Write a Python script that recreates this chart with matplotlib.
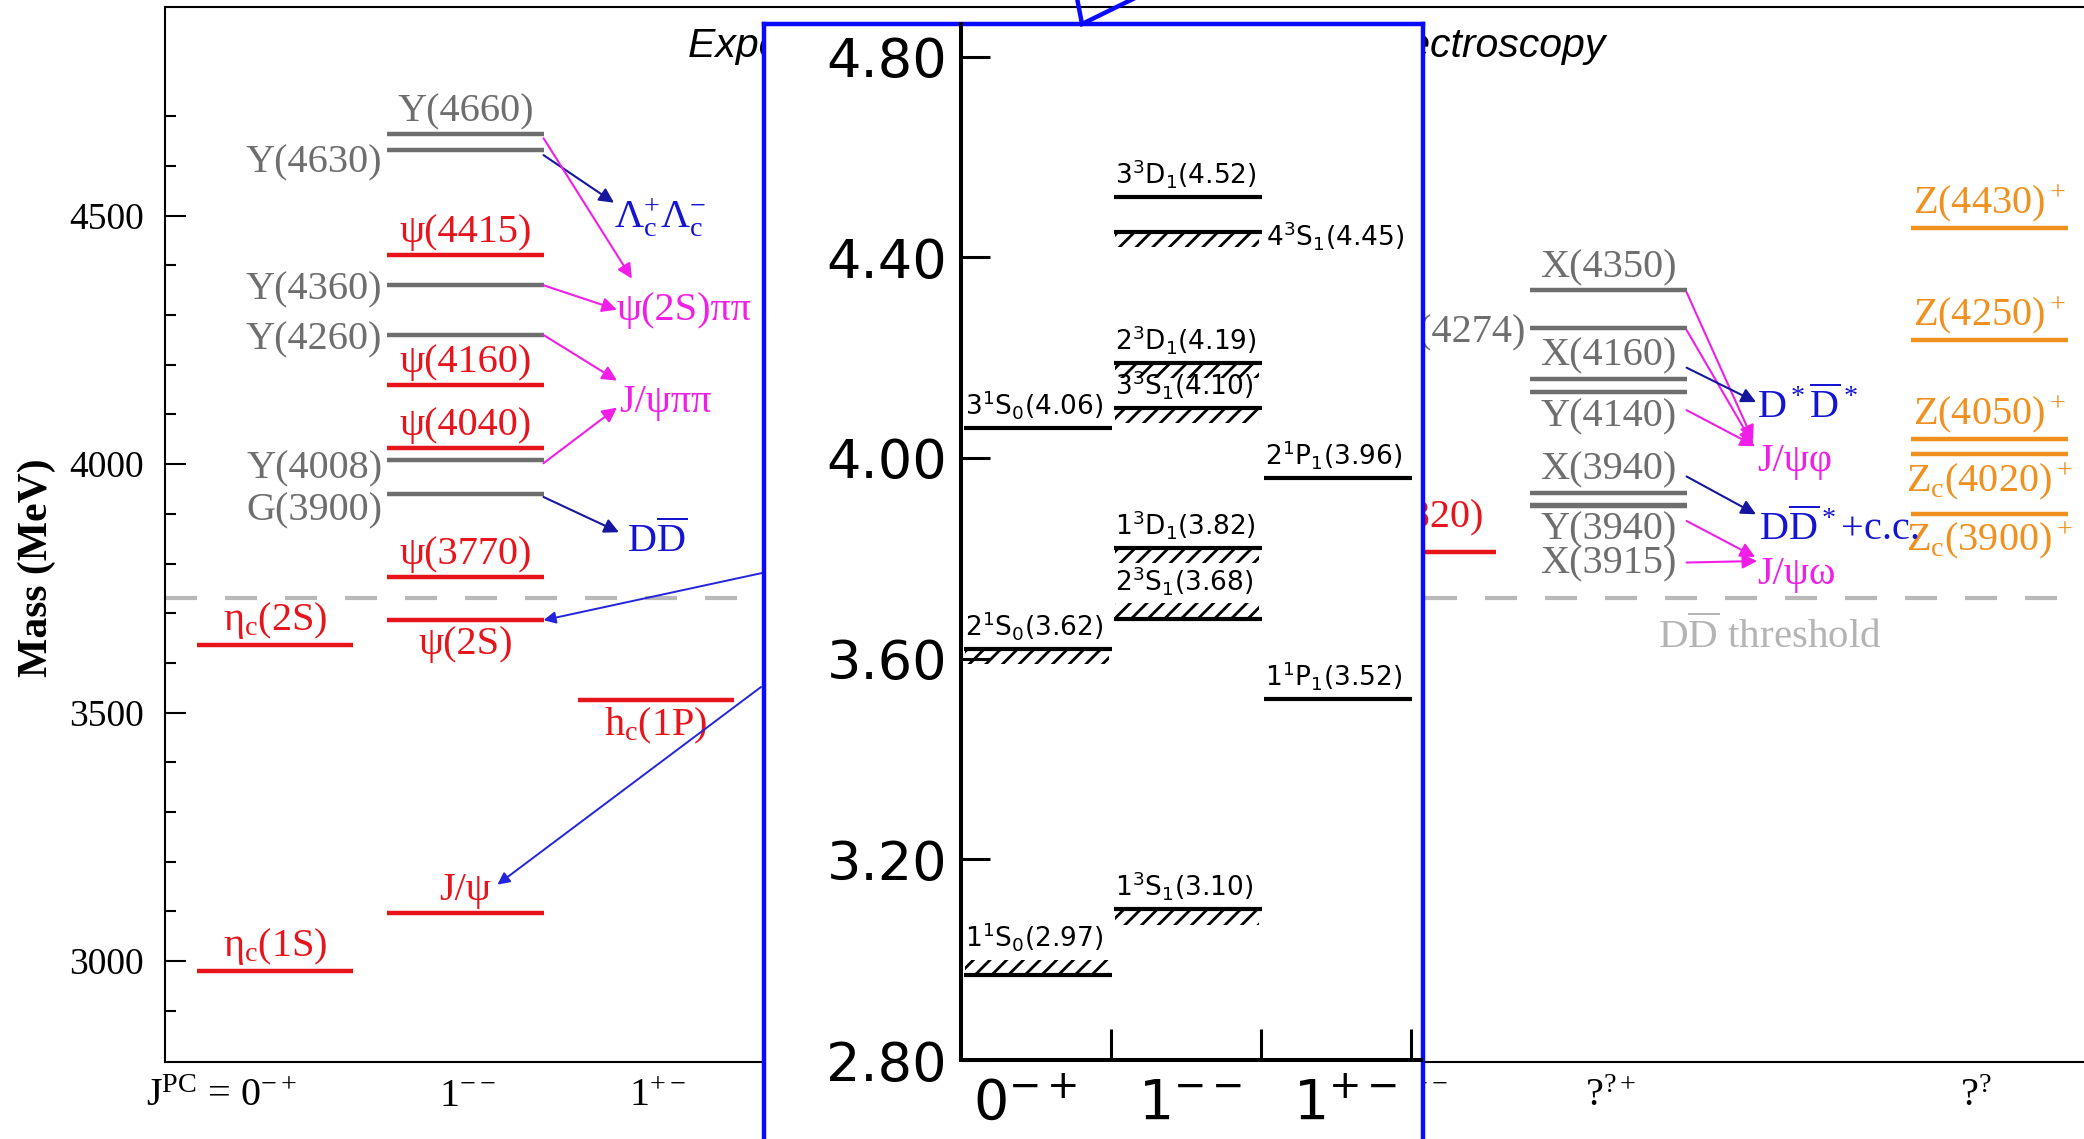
import numpy as np
import matplotlib.pyplot as plt
from matplotlib.patches import Rectangle
from matplotlib.lines import Line2D

plt.rcParams['font.family'] = 'Liberation Serif'
plt.rcParams['mathtext.default'] = 'regular'
plt.rcParams['mathtext.fontset'] = 'stix'
plt.rcParams['hatch.linewidth'] = 2.0

W, H = 2084, 1139

RED = '#e8141b'
GRAY = '#6e6e6e'
ORANGE = '#f0901e'
MAGENTA = '#f01ee6'
BLUE = '#1414d2'
NAVY = '#16169e'
FRAME = '#0a0aff'
colours = {'cc': RED, 'xyz': GRAY, 'z': ORANGE}

# observed states: label, mass (MeV), J^PC column, type, where the label sits
names = [r'$η_c(1S)$', r'$η_c(2S)$',
         'J/ψ', 'ψ(2S)', 'ψ(3770)', 'G(3900)', 'Y(4008)', 'ψ(4040)', 'ψ(4160)',
         'Y(4260)', 'Y(4360)', 'ψ(4415)', 'Y(4630)', 'Y(4660)',
         r'$h_c(1P)$', 'ψ(3820)',
         'X(3915)', 'Y(3940)', 'X(3940)', 'Y(4140)', 'X(4160)', 'X(4274)', 'X(4350)',
         r'$Z_c(3900)^+$', r'$Z_c(4020)^+$', r'$Z(4050)^+$', r'$Z(4250)^+$', r'$Z(4430)^+$']
masses = [2980, 3637,
          3097, 3686, 3773, 3940, 4008, 4033, 4160,
          4260, 4360, 4420, 4632, 4664,
          3525, 3823,
          3915, 3918, 3943, 4145, 4172, 4274, 4350,
          3900, 4020, 4050, 4250, 4475]
jpc_col = [0, 0,
           1, 1, 1, 1, 1, 1, 1,
           1, 1, 1, 1, 1,
           2, 6,
           7, 7, 7, 7, 7, 7, 7,
           9, 9, 9, 9, 9]
kind = ['cc', 'cc',
        'cc', 'cc', 'cc', 'xyz', 'xyz', 'cc', 'cc',
        'xyz', 'xyz', 'cc', 'xyz', 'xyz',
        'cc', 'cc',
        'xyz', 'xyz', 'xyz', 'xyz', 'xyz', 'xyz', 'xyz',
        'z', 'z', 'z', 'z', 'z']
label_side = ['above', 'above',
              'above', 'below', 'above', 'left', 'left', 'above', 'above',
              'left', 'left', 'above', 'left', 'above',
              'below', 'above',
              'below', 'below', 'above', 'below', 'above', 'left', 'above',
              'below', 'below', 'above', 'above', 'above']

# J^PC axis labels
jpc_labels = ['J$^{PC}$ = 0$^{-+}$', '1$^{--}$', '1$^{+-}$', '2$^{--}$', '?$^{?+}$', '?$^{?}$']
jpc_pos = [0, 1, 2, 6, 7, 9]

# decay channels
channels = [r'$Λ_c^{+}Λ_c^{-}$', 'ψ(2S)ππ', 'J/ψππ', r'$D\overline{D}$',
            r'$D^*\overline{D}^*$', 'J/ψφ', r'$D\overline{D}^*$+c.c.', 'J/ψω']
channel_col = [1.78, 1.795, 1.806, 1.848, 7.78, 7.78, 7.79, 7.78]
channel_mass = [4508, 4319, 4134, 3855, 4125, 4014, 3879, 3787]
channel_kind = ['open', 'hidden', 'hidden', 'open', 'open', 'hidden', 'open', 'hidden']

# observed transitions: state -> channel
decays = [('Y(4630)', 0), ('Y(4660)', 1), ('Y(4360)', 1), ('Y(4260)', 2), ('Y(4008)', 2),
          ('G(3900)', 3), ('X(4350)', 5), ('X(4274)', 5), ('X(4160)', 4), ('Y(4140)', 5),
          ('X(3940)', 6), ('Y(3940)', 7), ('X(3915)', 7)]
# arrow end tweaks in pixels: tail dy, head dx, head dy (dy positive = down)
arrow_nudge = [(5, 0, -9), (4, 15, -27), (0, 0, 4), (0, -2, -17), (3, -2, 10),
               (3, -8, -4), (2, -4, -17), (2, -4, -13), (-11, -1, 0), (18, -2, -11),
               (-16, -3, -10), (16, -2, -13), (56, 0, -9)]

threshold = 3730

# potential model levels (GeV)
calc_names = [r'$1^1S_0(2.97)$', r'$2^1S_0(3.62)$', r'$3^1S_0(4.06)$',
              r'$1^3S_1(3.10)$', r'$2^3S_1(3.68)$', r'$1^3D_1(3.82)$', r'$3^3S_1(4.10)$',
              r'$2^3D_1(4.19)$', r'$4^3S_1(4.45)$', r'$3^3D_1(4.52)$',
              r'$1^1P_1(3.52)$', r'$2^1P_1(3.96)$']
calc_mass = [2.97, 3.62, 4.06, 3.10, 3.68, 3.82, 4.10, 4.19, 4.45, 4.52, 3.52, 3.96]
calc_col = [0, 0, 0, 1, 1, 1, 1, 1, 1, 1, 2, 2]
calc_hatch = ['above', 'below', None, 'below', 'above', 'below', 'below', 'below',
              'below', None, None, None]
calc_side = ['above'] * 8 + ['right'] + ['above'] * 3
calc_cols = ['0$^{-+}$', '1$^{--}$', '1$^{+-}$']
calc_ticks = [2.8, 3.2, 3.6, 4.0, 4.4, 4.8]


def frac(x0, y0, x1, y1):
    return [x0 / W, 1 - y1 / H, (x1 - x0) / W, (y1 - y0) / H]


PT = 0.72          # points per pixel
MEV = 1 / 0.496    # MeV per pixel
COL = 1 / 190.5    # column units per pixel
HALF = 0.41

fig = plt.figure(figsize=(W / 100, H / 100), dpi=100)
ax = fig.add_axes(frac(165, 7, 2100, 1062))
ax.set_xlim(-0.577, 9.58)
ax.set_ylim(2797, 4920)
ax.set_xticks([])
ax.set_yticks([3000, 3500, 4000, 4500])
ax.set_yticks(np.arange(2900, 4701, 100), minor=True)
ax.tick_params(axis='y', which='major', direction='in', length=15, width=1.5,
               labelsize=27, pad=15)
ax.tick_params(axis='y', which='minor', direction='in', length=8, width=1.5)
for s in ax.spines.values():
    s.set_linewidth(1.5)

xc = np.array(jpc_col, float)
ax.hlines(masses, xc - HALF, xc + HALF, colors=[colours[k] for k in kind], lw=3.2, zorder=2)

shift = {'G(3900)': 12, 'Y(4630)': 8, 'Y(4008)': 4, 'X(3915)': 33, 'ψ(3820)': -12}
for n, m, c, k, side in zip(names, masses, jpc_col, kind, label_side):
    dy = -shift.get(n, 0) * PT
    if side == 'above':
        ax.annotate(n, (c, m), xytext=(0, 4 * PT + dy), textcoords='offset points',
                    ha='center', va='bottom', fontsize=29, color=colours[k])
    elif side == 'below':
        ax.annotate(n, (c, m), xytext=(0, -6 * PT + dy), textcoords='offset points',
                    ha='center', va='top', fontsize=29, color=colours[k])
    else:
        ax.annotate(n, (c - HALF, m), xytext=(-5 * PT, dy), textcoords='offset points',
                    ha='right', va='center_baseline', fontsize=29, color=colours[k])

for t, c, m, k in zip(channels, channel_col, channel_mass, channel_kind):
    ax.text(c, m, t, color=BLUE if k == 'open' else MAGENTA, fontsize=29,
            ha='left', va='center_baseline')

lookup = {n: i for i, n in enumerate(names)}
for (state, ch), (tdy, hdx, hdy) in zip(decays, arrow_nudge):
    i = lookup[state]
    tail = (jpc_col[i] + HALF, masses[i] - tdy * MEV)
    head = (channel_col[ch] + hdx * COL, channel_mass[ch] - hdy * MEV)
    colour = NAVY if channel_kind[ch] == 'open' else MAGENTA
    ax.annotate('', xy=head, xytext=tail,
                arrowprops=dict(arrowstyle='-|>', color=colour, lw=1.5,
                                mutation_scale=22, shrinkA=0, shrinkB=0))

ax.axhline(threshold, color='#b9b9b9', lw=3, dashes=(7.7, 6.7), zorder=1)
ax.annotate(r'$D\overline{D}$ threshold', (7.26, threshold), xytext=(0, -33 * PT),
            textcoords='offset points', ha='left', va='center_baseline',
            fontsize=29.5, color='#b4b4b4')

for lab, c in zip(jpc_labels, jpc_pos):
    if c == 0:
        x, ha = c + 0.115, 'right'
    elif c == 9:
        x, ha = c - 0.07, 'center'
    else:
        x, ha = c + 0.01, 'center'
    ax.text(x, -0.015, lab, transform=ax.get_xaxis_transform(), ha=ha, va='top', fontsize=29)

fig.text(37 / W, 1 - 568 / H, 'Mass (MeV)', rotation=90, fontsize=30, fontweight='bold',
         ha='center', va='center')
fig.text(688 / W, 1 - 57 / H, 'Experimental Status of Charmonium Spectroscopy',
         fontsize=29.5, style='italic', family='Liberation Sans', ha='left',
         va='baseline', zorder=1)

# arrows from the model panel to the measured states
for tail_px, head in [((764, 572.6), (1 + HALF, masses[lookup['ψ(2S)']])),
                      ((761, 687), (1.168, masses[lookup['J/ψ']] + 57))]:
    ax.annotate('', xy=head, xytext=(tail_px[0] / W, 1 - tail_px[1] / H),
                textcoords='figure fraction',
                arrowprops=dict(arrowstyle='-|>', color='#2424dc', lw=1.4,
                                mutation_scale=18, shrinkA=0, shrinkB=0))

# potential model panel
frame = fig.add_axes(frac(764, 24, 1423, 1200), zorder=10)
frame.set_xticks([])
frame.set_yticks([])
for s in frame.spines.values():
    s.set_color(FRAME)
    s.set_linewidth(3.2)

scan = fig.add_axes(frac(961, 24, 1421, 1060), zorder=11)
scan.patch.set_alpha(0)
scan.set_xlim(0, 3.067)
scan.set_ylim(2.80, 4.865)
scan.spines[['top', 'right']].set_visible(False)
for s in ('left', 'bottom'):
    scan.spines[s].set_linewidth(2.9)
scan.set_yticks(calc_ticks)
scan.set_yticklabels([f'{v:.2f}' for v in calc_ticks], family='DejaVu Sans', fontsize=39)
scan.tick_params(axis='y', direction='in', length=21, width=2.2, pad=10)
scan.set_xticks([1, 2, 3])
scan.set_xticklabels([])
scan.tick_params(axis='x', which='major', direction='in', length=22, width=2.2)
scan.set_xticks([0.43, 1.53, 2.56], calc_cols, minor=True)
scan.tick_params(axis='x', which='minor', length=0, pad=12, labelsize=40)
for lab in scan.get_xticklabels(minor=True):
    lab.set_family('DejaVu Sans')

cx = np.array(calc_col, float)
scan.hlines(calc_mass, cx + 0.02, cx + 1.01, colors='black', lw=3, zorder=3)
band = 0.03
for m, c, h in zip(calc_mass, calc_col, calc_hatch):
    if h is None:
        continue
    y0 = m if h == 'above' else m - band
    scan.add_patch(Rectangle((c + 0.03, y0), 0.96, band, fill=False, hatch='//',
                             edgecolor='black', lw=0))

for t, m, c, h, side in zip(calc_names, calc_mass, calc_col, calc_hatch, calc_side):
    if side == 'right':
        scan.annotate(t, (c + 1.01, m), xytext=(4 * PT, 0), textcoords='offset points',
                      ha='left', va='center_baseline', fontsize=19, family='DejaVu Sans')
    else:
        gap = 7 + (15 if h == 'above' else 0)
        scan.annotate(t, (c + 0.03, m), xytext=(0, gap * PT), textcoords='offset points',
                      ha='left', va='bottom', fontsize=19, family='DejaVu Sans')

for x_end in (1077, 1135):
    fig.add_artist(Line2D([1082 / W, x_end / W], [1 - 24 / H, 1 + 2 / H],
                          color=FRAME, lw=3.2, zorder=12))

fig.savefig('out.png', dpi=100)
